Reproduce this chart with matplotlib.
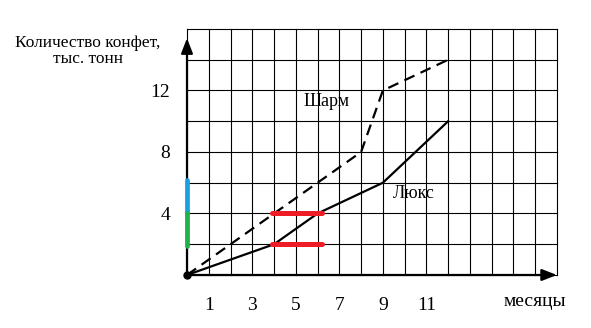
import matplotlib.pyplot as plt

# months and values (thousand tonnes)
lux_x = [0, 4, 6, 9, 12]
lux_y = [0, 2, 4, 6, 10]
sharm_x = [0, 4, 6, 8, 9, 12]
sharm_y = [0, 4, 6, 8, 12, 14]

x_labels = [1, 3, 5, 7, 9, 11]
y_labels = [4, 8, 12]

# highlighted segments
red_x = [3.9, 6.2]
red_levels = [2, 4]
blue_y = [4, 6.2]
green_y = [1.9, 4]

plt.rcParams['font.family'] = ['Liberation Serif', 'DejaVu Serif']

fig = plt.figure(figsize=(5.91, 3.28), dpi=100)
ax = fig.add_axes([0.3164, 0.1616, 0.626, 0.75])

ax.set_xlim(0, 17)
ax.set_ylim(0, 16)

for s in ax.spines.values():
    s.set_visible(False)

# grid
for gx in range(0, 18):
    ax.plot([gx, gx], [0, 16], color="black", lw=0.8, clip_on=False, zorder=1)
for gy in range(0, 17, 2):
    ax.plot([0, 17], [gy, gy], color="black", lw=0.8, clip_on=False, zorder=1)

ax.set_xticks(x_labels)
ax.set_xticklabels([str(v) for v in x_labels], fontsize=14)
ax.set_yticks(y_labels)
ax.set_yticklabels([str(v) for v in y_labels], fontsize=14)
ax.tick_params(length=0)
ax.tick_params(axis="x", pad=16)
ax.tick_params(axis="y", pad=12)

# axes with arrows
ax.annotate("", xy=(17, 0), xytext=(0, 0),
            arrowprops=dict(arrowstyle="-|>,head_length=0.9,head_width=0.35",
                            color="black", lw=1.6, shrinkA=0, shrinkB=0),
            annotation_clip=False, zorder=4)
ax.annotate("", xy=(0, 15.4), xytext=(0, 0),
            arrowprops=dict(arrowstyle="-|>,head_length=0.9,head_width=0.35",
                            color="black", lw=1.6, shrinkA=0, shrinkB=0),
            annotation_clip=False, zorder=4)

# series
ax.plot(lux_x, lux_y, color="black", lw=1.6, zorder=3, clip_on=False)
ax.plot(sharm_x, sharm_y, color="black", lw=1.6, ls=(0, (5, 3)), zorder=3, clip_on=False)
ax.plot([0], [0], "o", color="black", ms=5, zorder=5, clip_on=False)

for lv in red_levels:
    ax.plot(red_x, [lv, lv], color="#ee1c25", lw=3.6, zorder=4, solid_capstyle="round")
ax.plot([0, 0], blue_y, color="#1aa0e0", lw=3.4, zorder=5, clip_on=False, solid_capstyle="round")
ax.plot([0, 0], green_y, color="#21b04b", lw=3.4, zorder=5, clip_on=False, solid_capstyle="round")

ax.text(6.4, 11.3, "Шарм", fontsize=13, ha="center", va="center", zorder=6)
ax.text(10.4, 5.3, "Люкс", fontsize=13, ha="center", va="center", zorder=6)

fig.text(88 / 591, 1 - 51 / 328, "Количество конфет,\nтыс. тонн", fontsize=12.5,
         ha="center", va="center", linespacing=1.0)
fig.text(535 / 591, 1 - 301 / 328, "месяцы", fontsize=14, ha="center", va="center")

plt.savefig("out.png")
